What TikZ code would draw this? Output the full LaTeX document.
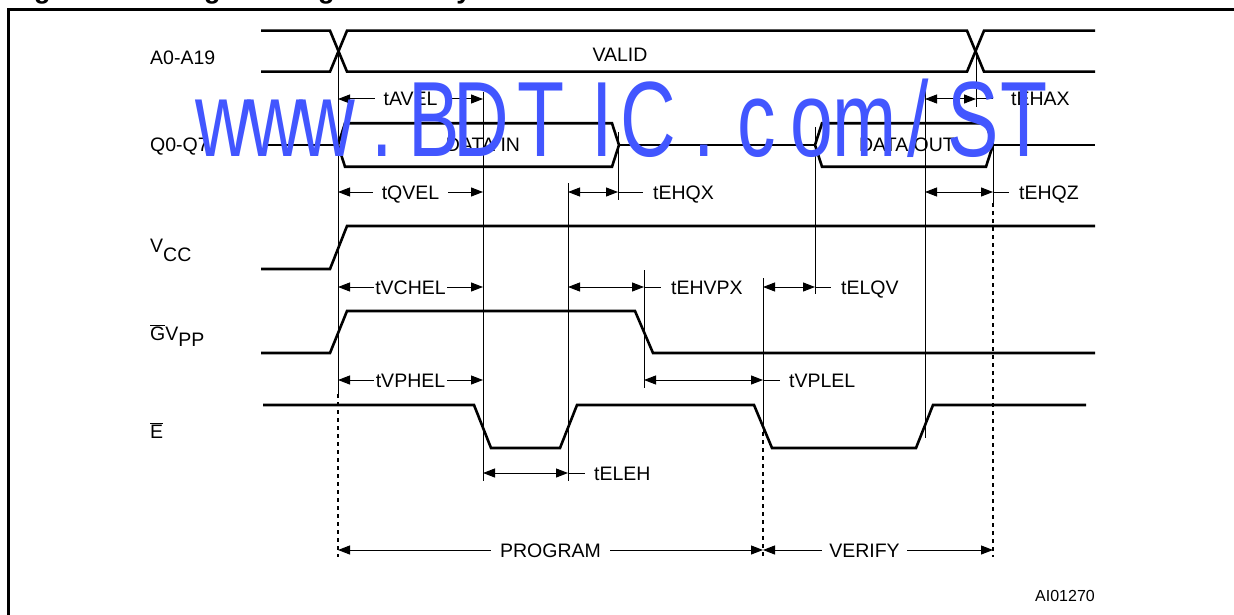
\documentclass[tikz,border=0pt]{standalone}
\usepackage{fontspec}
\setmainfont{Liberation Sans}
\usetikzlibrary{arrows.meta}
\definecolor{wm}{RGB}{66,86,255}
\begin{document}
\begin{tikzpicture}[x=1pt,y=-1pt,
  sig/.style={line width=2.6pt, line join=miter},
  tick/.style={line width=1pt},
  dots/.style={line width=1.6pt, dash pattern=on 4pt off 4pt},
  dim/.style={line width=1pt, {Triangle[length=12pt,width=9pt]}-{Triangle[length=12pt,width=9pt]}},
  lead/.style={line width=1pt},
  lbl/.style={font=\fontsize{19.5}{22}\selectfont, inner sep=0pt, text height=14pt, text depth=0pt},
  gapwide/.style={lbl, fill=white, inner xsep=9pt},
  gaptight/.style={lbl, fill=white, inner xsep=1.5pt},
  side/.style={lbl, anchor=west},
  sig label/.style={font=\fontsize{19.5}{22}\selectfont, inner sep=0pt, anchor=base west},
  ttl/.style={font=\fontsize{27}{30}\selectfont\bfseries, inner sep=0pt, anchor=base west},
  wmch/.style={anchor=base, inner sep=0pt, text=wm, font=\fontsize{107}{107}\selectfont}
]
\useasboundingbox (0,0) rectangle (1234,615);

% title (cut off by the top of the picture)
\node[ttl] (t1) at (10,-1.5) {Figure 8.};
\node[ttl] (t2) at (159,-1.5) {Programming and Verify Modes AC Waveforms};

% frame
\draw[line width=2.7pt] (8.7,640) -- (8.7,9.5) -- (1250,9.5);

% signal names
\node[sig label] (nA) at (150,65) {A0-A19};
\node[sig label] (nQ) at (150,152) {Q0-Q7};
\node[sig label] (nV) at (150,252) {V\raisebox{-9pt}{CC}};
\node[sig label] (nG) at (150,340) {$\overline{\mbox{G}}$V\raisebox{-6pt}{PP}};
\node[sig label] (nE) at (150,438) {$\overline{\mbox{E}}$};

% A0-A19
\draw[sig] (261,30.7) -- (330,30.7) -- (347,71.7) -- (967,71.7) -- (984,30.7) -- (1095,30.7);
\draw[sig] (261,71.7) -- (330,71.7) -- (347,30.7) -- (967,30.7) -- (984,71.7) -- (1095,71.7);
\node[sig label, anchor=base] (valid) at (620,62) {VALID};

% Q0-Q7
\draw[sig] (263,145) -- (338,145);
\draw[sig] (338,145) -- (345,123.3) -- (612,123.3) -- (619,145) -- (612,166.7) -- (345,166.7) -- cycle;
\draw[sig] (619,145) -- (815,145);
\draw[sig] (815,145) -- (822,123.3) -- (986,123.3) -- (993,145) -- (986,166.7) -- (822,166.7) -- cycle;
\draw[sig] (993,145) -- (1095,145);
\node[sig label, anchor=base] (din) at (483,152) {DATA IN};
\node[sig label, anchor=base] (dout) at (907,152) {DATA OUT};

% VCC
\draw[sig] (261,269) -- (330,269) -- (347,226) -- (1095,226);
% GVPP
\draw[sig] (261,353) -- (330,353) -- (347,311) -- (635,311) -- (653,353) -- (1095,353);
% E
\draw[sig] (263,405) -- (474,405) -- (491,448) -- (560,448) -- (577,405) -- (754,405) -- (772,448) -- (916,448) -- (933,405) -- (1086,405);

% reference lines
\draw[tick] (338,51) -- (338,394);
\draw[dots] (338,394) -- (338,557);
\draw[tick] (483,92) -- (483,481);
\draw[tick] (568,183) -- (568,481);
\draw[tick] (618,132) -- (618,200);
\draw[tick] (644,270) -- (644,388);
\draw[tick] (763,278) -- (763,432);
\draw[dots] (763,432) -- (763,557);
\draw[tick] (815,127) -- (815,294);
\draw[tick] (925,83) -- (925,438);
\draw[tick] (976,51) -- (976,107);
\draw[tick] (993,133) -- (993,203);
\draw[dots] (993,203) -- (993,557);

% timing parameters
\draw[dim] (338,99) -- node[gapwide] (pAVEL) {tAVEL} (483,99);
\draw[dim] (925,99) -- (976,99);
\draw[lead] (976,99) -- (993,99);
\node[side] (pEHAX) at (1011,99) {tEHAX};

\draw[dim] (338,192) -- node[gapwide] (pQVEL) {tQVEL} (483,192);
\draw[dim] (568,192) -- (618,192);
\draw[lead] (618,192) -- (643,192);
\node[side] (pEHQX) at (653,192) {tEHQX};
\draw[dim] (925,192) -- (993,192);
\draw[lead] (993,192) -- (1009,192);
\node[side] (pEHQZ) at (1019,192) {tEHQZ};

\draw[dim] (338,287) -- node[gaptight] (pVCHEL) {tVCHEL} (483,287);
\draw[dim] (568,287) -- (644,287);
\draw[lead] (644,287) -- (661,287);
\node[side] (pEHVPX) at (671,287) {tEHVPX};
\draw[dim] (763,287) -- (815,287);
\draw[lead] (815,287) -- (831,287);
\node[side] (pELQV) at (841,287) {tELQV};

\draw[dim] (338,380) -- node[gaptight] (pVPHEL) {tVPHEL} (483,380);
\draw[dim] (644,380) -- (763,380);
\draw[lead] (763,380) -- (780,380);
\node[side] (pVPLEL) at (789,380) {tVPLEL};

\draw[dim] (483,473) -- (568,473);
\draw[lead] (568,473) -- (585,473);
\node[side] (pELEH) at (594,473) {tELEH};

\draw[dim] (338,550) -- node[gapwide] (prog) {PROGRAM} (763,550);
\draw[dim] (763,550) -- (993,550);
\node[lbl, fill=white, inner xsep=7pt] (ver) at (864.5,550) {VERIFY};

\node[font=\fontsize{16}{18}\selectfont, inner sep=0pt, anchor=base west] (code) at (1035,601) {AI01270};

% watermark, letter by letter
\node[wmch] (m1) at (223,157) {\scalebox{0.72}[1]{w}};
\node[wmch] (m2) at (275,157) {\scalebox{0.72}[1]{w}};
\node[wmch] (m3) at (327,157) {\scalebox{0.72}[1]{w}};
\node[wmch] (m4) at (382,157) {\scalebox{0.72}[1]{.}};
\node[wmch] (m5) at (434,157) {\scalebox{0.72}[1]{B}};
\node[wmch] (m6) at (481,157) {\scalebox{0.72}[1]{D}};
\node[wmch] (m7) at (541,157) {\scalebox{0.72}[1]{T}};
\node[wmch] (m8) at (602,157) {\scalebox{0.72}[1]{I}};
\node[wmch] (m9) at (648,157) {\scalebox{0.72}[1]{C}};
\node[wmch] (m10) at (704,157) {\scalebox{0.72}[1]{.}};
\node[wmch] (m11) at (757,157) {\scalebox{0.72}[1]{c}};
\node[wmch] (m12) at (812,157) {\scalebox{0.72}[1]{o}};
\node[wmch] (m13) at (865,157) {\scalebox{0.72}[1]{m}};
\node[wmch] (m14) at (918,157) {\scalebox{0.72}[1]{/}};
\node[wmch] (m15) at (973,157) {\scalebox{0.72}[1]{S}};
\node[wmch] (m16) at (1024,157) {\scalebox{0.72}[1]{T}};
\end{tikzpicture}
\end{document}
